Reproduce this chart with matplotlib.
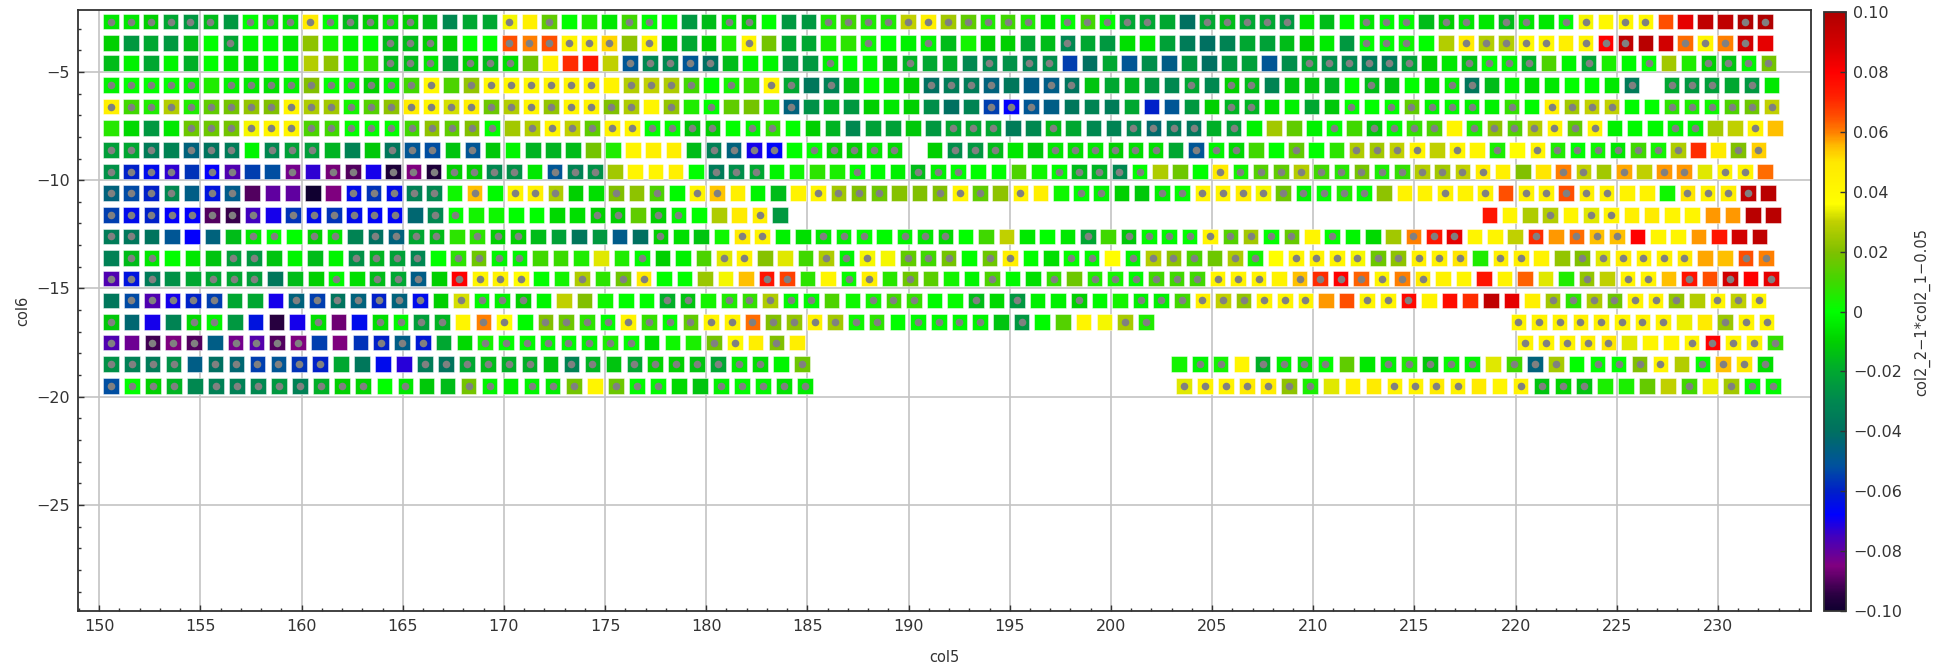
#!/usr/bin/env python3
"""
Grid of square markers coloured by col2_2-1*col2_1-0.05, with grey dots on the flagged cells.
"""

import matplotlib
matplotlib.use('Agg')
import matplotlib.pyplot as plt
import numpy as np
from matplotlib.cm import ScalarMappable
from matplotlib.colors import LinearSegmentedColormap, Normalize
from matplotlib.ticker import FuncFormatter, MultipleLocator

G = [None]

# col6 of every row, first col5 of the row and col5 step along the row
col6_rows = [-2.68, -3.66, -4.6, -5.6, -6.6, -7.6, -8.6, -9.6, -10.6, -11.6, -12.6, -13.6,
             -14.55, -15.55, -16.55, -17.5, -18.5, -19.5]
col5_first = 150.57
col5_steps = [0.985, 0.985, 0.987, 0.989, 0.989, 0.991, 0.993, 0.997, 0.999, 1.002, 1.006, 1.010,
              1.013, 1.018, 1.023, 1.028, 1.035, 1.040]

# colour values per row, in hundredths
row_01 = [-0.5, -0.5, -1, -2, -2.5, -1.5, -2.5, 0, -0.5, -0.5, 4.8, 0, -1.5, -1, -0.5, -1, -1.5, -3, -2, -2, 3.5, 4.5,
          1.5, 0, 0.5, -0.5, 1, 0, 0, -2.5, -1.5, -0.5, -1, 0, -2.5, -2.5, 0.5, 1, 0.5, 0.5, 3, 4.5, 2.5, 1.5, 0.5, 1,
          0.5, -0.5, 0, 1, 0, -2, -2, -2, -4, -2, -1.5, -2, -2, -2.5, -0.5, -1.5, 0, -0.5, 0,
          0, -1.5, -1, -0.5, -0.5, -1.5, -0.5, -0.5, 0, 3.5, 4, 4, 4, 6.5, 8.5, 9.5, 9.5, 10, 10]
row_02 = [-1, -2.5, -2, -2.5, -1.5, 0, -2, -0.2, 0, -0.5, 2.2, 0.3, -0.2, 0, -1.5, -1.5, -1, -1, 0, 0, 6.5, 6,
          6.5, 4.2, 4.2, 5.2, 2.2, 4.2, -1, -2, -1, 0.5, 4.2, 1.8, -2, -2, 0.4, 0.7, 0.2, 0, -0.3, -0.2, -1.5, 0.3, -1, -1,
          -2, -1.5, -3, -2, -2.5, -0.7, -0.5, -2.2, -3.5, -4, -3.2, -2, -2.2, -1.5, -1, -0.4, -2.5, 0, 0,
          0.2, 0, 2.8, 4.8, 2.8, 2.8, 4, 4, 4.5, 4.3, 8, 9.5, 9.7, 9, 6.2, 4.2, 6, 9, 8.5]
row_03 = [-1.5, -0.3, -2, -0.2, -1.8, 0, -0.5, -0.7, 0, -0.2, 2.8, 2.2, 0.2, 0.7, -1.5, -1.5, -0.5, -2, -1, -1.5, -0.7, 1.7,
          4.3, 7, 7.5, 3, -5, -3, -3, -5, -4, -1.5, -0.2, -0.2, -2.5, -2.5, -0.3, 0, -0.2, -1.2, -1.7, -2, -1.8, -3, -3, -2.7,
          -3.3, -2.8, -5.5, -4, -2, -5, -2.8, -4.7, -2.5, -4, -2.5, -2.3, -5, -2.8, -2, -2.8, -3, -3.5, -3.5,
          -2.2, -1, -0.5, -1.3, 0, -0.2, -1.7, 1.2, -0.2, -2, 0.4, -0.1, 0, 2.5, 0.5, -1, -1.3, -0.2, 1.8]
row_04 = [-0.3, 0, 0, 0, -0.3, 0.5, -0.3, -0.5, -0.7, -0.3, 2, 0, -0.2, -1, -0.2, 1, 4, 1.2, 2.3, 4, 4, 4,
          4.2, 4.2, 4.2, 4.3, 2.8, 3, 2.7, 1, 0, 0.3, 0.8, 4.2, -2, -3.7, -3.3, -1.3, 0, -0.5, -1, -4, -3.5, -3.5, -4.5, -3.7,
          -4.7, -4.7, -3.8, -1.3, -2, -1.7, -2.5, -3, -2, -3, -1, -1.5, -3.2, -1.3, -1.3, -1.7, 0, -1.5, -1.3,
          0, -0.7, -0.3, -3.7, -1.5, -0.2, -0.7, -0.5, 0, 0, -0.5, -3.5, None, -2, -2.5, -2.3, -2, -2.5, -0.5]
row_05 = [4.5, 1, 0.5, 2.8, 0.5, 1.5, 1.8, 2.3, 2, 4.2, 2.7, 2.5, 0.3, 1.3, 2.2, 4.7, 4.2, 3.2, 4.6, 1.7, 2.8, 4.2,
          2.3, 4.2, 4.3, 2, 2.7, 4.2, 2.3, 0.5, 0, 1.5, 1.8, 0.6, -4.5, -2.7, -1.7, -2.5, -1, -0.5, -1, -2.8, -4, -3.2, -5.5, -6.8,
          -5, -4.7, -3.7, -3.2, -3.5, -2, -6, -5, -2.5, -1, -1.7, -1.7, -0.7, -0.3, -2, -1.2, 0, 0, 0,
          1.5, -0.2, -0.1, -0.3, -0.3, 0.8, -0.1, 4.5, 2.5, 3, 3, -0.1, 0, 0.7, 0.4, 0.2, 1.2, 1.7, 3]
row_06 = [0.6, -0.8, -2.5, -0.5, 1.7, 1.7, 1.8, 3.5, 4.2, 4.2, 1.2, 1, 0, 0, 0, 1, 2.2, 1.5, 2, 0, 2.5, 2.8,
          4.2, 3, 1.5, 4.3, 4.2, 0, 0, -1.2, -1, 0, -0.2, 0.7, 0, -1, -1.7, -3, -2.2, -2.2, -1.2, -2.5, -2, -2, -2, -3.5,
          -3, -1.5, -2, -3, -3.2, -3, -4.2, -3.5, -3.7, -1.8, -2.3, -0.3, 2.5, 1.5, -0.3, 0, 1, -1.2, -0.1,
          0.8, 1.2, 4.2, 0.5, 2.2, 1.3, 2.8, 4.2, 1.5, 4.2, -0.3, -0.1, -0.1, -0.2, -0.2, 2.6, 3, 4.2, 5.5]
row_07 = [-2.3, -2, -3.5, -3.2, -4.5, -3.8, -3.5, -0.2, -3, -2.2, -2.3, -1.7, -3.2, -1.2, -3.7, -5, -5.2, -1.3, -5, -1.2, -0.2, -1.7,
          -1.7, -1.5, 1.8, 0.5, 4.2, 4.5, 4.6, -1.5, -3.3, -4.5, -7, -6.7, 0, 0, -1, -1, -0.5, -0.8, None, -1, -2.8, -2.5, -1.5, -0.5,
          -1.2, -0.5, -0.7, -0.5, -1, -0.7, -0.7, -2, -5, -0.2, -0.8, 1, 0, 1.5, 0, 0.7, 2.7, 2.5, 3,
          4.2, 3, 4.2, 4.2, 0.4, 3.7, 4.2, 0.5, 0, 0.2, -0.5, 1, 0.3, 2.7, 7, 4.8, 2, 5.3]
row_08 = [-2.7, -6, -6.5, -7.3, -5.7, -6.8, -7.7, -5.5, -5.2, -8.3, -7.3, -8.6, -9, -7, -9.7, -8.5, -9.7, -1, -1, -3, -2.7, -0.5,
          -5, -3.2, -2.7, 2.5, 4.2, 4.2, 4.5, 0, -3.5, -2.8, -2, -0.2, 0.2, 0.7, 0.4, 0, 0, -0.3, -1.5, -0.3, 0, 0, 0, 1.2,
          0.2, 0, -1.5, -1.7, -3, 0, 2.7, 1.7, 0, 4.8, 0.3, 1.3, 1.5, 2.8, 1, 0.6, 1.8, 0.4, 0.8,
          2.8, 2.5, 3, 4.7, 4.5, 2, 5, 6, 3, 2.5, 5.7, 3, 5.8, 5.8, 3.3, 4.2, 4.2, 6.2]
row_09 = [-4.5, -5.3, -6, -3, -4.7, -6.3, -4.8, -9, -8, -8, -10, -8.5, -6.5, -5.7, -6.5, -3.3, -3, 0.2, 5.5, -0.1, 4.2, 4.5,
          2.7, -1, -0.7, 2, 2.2, 1.2, -0.1, 4.2, 5.4, 4.5, -0.2, -1.5, 4.3, 4.2, 2.5, 2, 1.7, 2.1, 2, 2, 4.2, 1.5, 2.2,
          4.3, 4.6, 0.2, 0, -0.2, -1, -1.2, -0.3, 0, 4.2, 4.2, 4.7, 3.5, 1.7, -0.2, 0, 0.5, 0, 2.2,
          4.3, 4.3, 4.3, 4.3, 4.3, 6.5, 4.3, 4.3, 6.5, 4.5, 4.3, 4.3, 4.3, 0.2, 5, 4.3, 4.6, 9.5, 9.7]
row_10 = [-5.5, -6.5, -6, -6.8, -6.8, -9, -9.3, -7.5, -7, -5.7, -6.5, -5.7, -6.5, -6.7, -6.7, -4.3, -3, 0, 0.3, 0.2, 0, 0,
          -0.8, -0.7, -1, -1, 1.5, -1, -0.2, 0, 2.7, 4.8, 4.6, -2.5] + G * 34 + [
          7.5, 4.2, 2.7, 2.8, 4.2, 3.3, 4.2, 4.5, 4.8, 4.2, 4.2, 5.8, 5.8, 9.7, 9.7]
row_11 = [-3.5, -3.7, -3.8, -5, -6.8, -4.5, -1.5, -0.5, 0, 0, -1, -0.5, -3.2, -4, -4.5, -2, -1.5, 0.7, 0.7, -1, -1, -1.5,
          -2.2, -3.7, -2.5, -4.8, -4, -1, -0.7, -1.3, 0.2, 4.8, 4.3, -0.3, -0.7, -0.5, -0.3, 0, -0.1, -0.2, -0.5, -0.8, 0, 1, 3,
          -0.5, 0, -0.5, -2, 1, -1.2, -0.1, -0.1, 0, 4.2, 1.3, 2.5, 0, 1.6, 4.2, 0, -0.2, -0.8, 2.5,
          6, 7.5, 8.5, 4.2, 4.2, 3, 7, 5.8, 6.2, 5.5, 5.5, 8, 4.2, 4.2, 5.8, 7.5, 9, 9.5]
row_12 = [-3.3, -1.5, -0.5, 0, -0.5, -1.3, -2.3, -2.5, -1.3, -0.2, -1.5, -0.2, -2.7, -1.7, -2.2, -3, 0, 0.7, 1.7, -0.2, -0.2, 1,
          0.9, 0.5, 3.3, 0.5, -0.1, -1, -0.3, 1.2, 3.3, 4.3, 2.1, 3.3, 1, 2.7, -0.2, 3.5, 3.5, 1.5, 1, 1.8, 0, 1.7, 4.6,
          0, -0.7, 0, -0.1, 3.7, -0.2, 2.8, 2.2, 1.2, 1.7, 2.7, 0.3, 3.6, 4.2, 4.3, 4.2, 3.5, 1.7, 2.2,
          4.5, 4.4, 5, 0.5, 4.5, 4.5, 4.3, 2.3, 2, 3.3, 4.7, 4.4, 4.4, 4.8, 5.7, 5.5, 6.5, 6]
row_13 = [-7.7, -6.3, -3.5, -2.7, -2, -2, -2, -2.3, -3.7, -1.5, -1, -0.1, -0.7, -1.5, -2, -4.7, -1, 8, 4.2, 4.4, 3.7, 0,
          0.3, 2.7, 0.7, 1.7, 4.8, 0, 0, 2.4, 3.5, 5.5, 7.5, 6.7, 0.7, 4.2, 0.1, 4.6, 0.6, 1.7, 1.4, 0.3, -0.2, 1.2, -0.1,
          -0.7, 0.8, 1.7, 0.5, 0.3, -0.1, 1, 1, 1, 4.2, 4.3, 4.3, 4.3, 5.5, 7, 8, 6.3, 4.2, 6,
          4.8, 4.4, 4.2, 7.5, 4.3, 6.3, 3.3, 0.5, 2.3, 3, 4.3, 4.3, 5.5, 7.5, 6.5, 9, 8, 8.5]
row_14 = [-3.7, -5.3, -7.7, -7, -6, -5.5, -2, -2, -7, -4.5, -5.5, -3.8, -4.5, -6, -4.5, -6.5, -1, 3.2, -0.1, -0.3, -1, -0.2,
          3, 2, 0.2, 0, 0, -1.8, -1.3, 0.3, 0.5, 0.8, 2.7, -0.1, -0.1, 1.2, 0.2, 0.3, 1, 0.8, -0.1, 0.1, -1.5, -0.8,
          -2.5, -0.3, -0.3, -1, -0.1, 0.3, -0.3, -0.3, 1, 4.5, 3, 2.3, 4.2, 4.2, 4.2, 5.8, 6.5, 4.2, 4.2,
          7.8, 4.3, 7.7, 7, 9.5, 8.5, 4.5, 2.5, 0.7, 2.7, 1.7, 4.2, 4.2, 2.3, 2.8, 4.2, 3, 4.2]
row_15 = [-1.2, -4.3, -7, -3.2, -0.8, -0.2, -2.5, -6.3, -9.5, -7, -0.7, -8.7, -6.5, -0.7, -0.1, -2.3, -1.7, 4.2, 6, 3.7, -0.1,
          2, 1.7, 0.7, 0, 4.3, 0.8, 0, 1.5, 4.2, 4.3, 6.2, 2, 2.3, 4.3, 2.5, 0.2, 0.7, 0, -0.1, -0.1, -0.1, -0.2, -1.3,
          -2.5, -0.1, 1.3, 4.2, 3.5, 2.6, 0.5] + G * 17 + [
          4.2, 4.3, 4.3, 4.5, 4.4, 4.2, 4.3, 4.3, 3.4, 4.8, 2.4, 4.2, 4.2]
row_16 = [-7.7, -8.2, -9.2, -8.5, -9, -4.7, -8.3, -7.8, -9, -8.5, -5.5, -8.5, -5.7, -6, -4.7, -6.2, -2, -0.8, 0.3, 0, -0.1,
          -0.1, -0.1, -0.2, 0.4, 0, -0.7, 0.2, 0.4, 1.8, 3.8, 4.6, 2, 4.6] + G * 34 + [
          4.2, 4.2, 4.3, 4.6, 5, 3.3, 4.2, 4.2, 4.2, 8, 4.2, 4.2, 0.8]
row_17 = [-2.7, -3.3, -3.5, -2.7, -4.7, -4, -4.3, -5.5, -5, -5.7, -6, -2, -3.7, -6.5, -7.2, -3.5, -3.8, -2, -1.5, -1.8, -1.8,
          -1.3, -3.2, -1.7, -1.3, -2, -0.9, -1, -1.3, -2, -0.4, -0.7, -0.2, 1.7] + G * 17 + [
          0.3, -0.2, 0.3, 4.2, -1.8, -0.3, -0.5, 0, 1.5, -0.5, -0.3,
          0.5, -1.2, 0.1, -0.2, 3.3, 1, -4.5, 2.6, 0, 0, 0, 2, 4.2, 2.8, 0, 5.5, 4.9, -0.7]
row_18 = [-5.2, 0, -1, -1.7, -3, -3.3, -3.3, -3, -2.5, -3.3, -1.8, -1, -0.9, 0, -0.5, -1.2, -1.5, 1.8, -0.2, -0.3, -0.2,
          -0.4, 1.8, 4.2, 1.7, -0.1, -0.1, -0.8, -1.3, -0.3, -0.1, -0.2, -0.6, -0.4] + G * 17 + [
          3.3, 4.3, 4.3, 4.8, 4.7, 2.2, 0.4, 3.3, 4.5, 4.8, 4.3,
          4.3, 4.8, 4.3, 4.8, 4.2, 4.3, -1.3, -0.9, -1.3, 0.4, 0.4, 1.6, 3, 1, 3.4, 2.5, 0, -0.1]
rows = [row_01, row_02, row_03, row_04, row_05, row_06, row_07, row_08, row_09, row_10, row_11, row_12,
        row_13, row_14, row_15, row_16, row_17, row_18]

# positions along each row that carry a grey dot
dots_01 = [0, 1, 2, 3, 4, 5, 7, 8, 9, 10, 11, 12, 13, 14, 15, 20, 22, 26, 27, 31, 32, 36, 37, 38, 39, 40, 41, 42, 43, 44, 45,
           46, 48, 49, 50, 51, 52, 55, 56, 57, 58, 59, 63, 64, 65, 67, 68, 70, 71, 73, 74, 76, 77, 82, 83]
dots_02 = [6, 14, 15, 16, 20, 21, 22, 23, 24, 25, 27, 32, 38, 41, 48, 63, 64, 65, 68, 69, 70, 71, 72, 74, 75, 76, 79, 80, 81, 82]
dots_03 = [14, 15, 16, 18, 19, 20, 26, 27, 28, 29, 30, 36, 40, 44, 46, 47, 60, 61, 62, 63, 64, 65, 68, 69, 70, 71, 74, 77, 80,
           81, 82, 83]
dots_04 = [0, 1, 2, 3, 4, 6, 7, 8, 9, 10, 11, 12, 13, 14, 15, 16, 18, 19, 20, 21, 22, 23, 24, 26, 27, 28, 29, 31, 33, 34, 36,
           41, 42, 43, 44, 47, 48, 54, 56, 57, 63, 67, 68, 76, 78, 79, 80, 82]
dots_05 = [0, 1, 2, 3, 4, 5, 6, 7, 8, 9, 10, 11, 12, 13, 14, 15, 16, 17, 18, 19, 20, 21, 22, 23, 24, 25, 26, 28, 30, 34, 44, 45,
           46, 56, 57, 62, 64, 65, 66, 67, 68, 70, 72, 73, 74, 75, 78, 79, 80, 81, 82, 83]
dots_06 = [4, 5, 6, 7, 8, 9, 10, 11, 12, 13, 14, 15, 16, 17, 18, 19, 21, 22, 23, 24, 25, 26, 27, 28, 29, 30, 32, 33, 42, 43, 44,
           47, 51, 52, 53, 54, 56, 61, 63, 64, 65, 66, 68, 69, 70, 71, 72, 73, 74, 78, 79, 82]
dots_07 = [0, 1, 2, 4, 5, 6, 8, 9, 10, 14, 15, 16, 18, 30, 31, 32, 33, 35, 36, 37, 38, 39, 42, 43, 44,
           47, 48, 49, 50, 51, 52, 54, 55, 56, 59, 62, 63, 64, 65, 67, 69, 71, 72, 73, 74, 75, 76, 77, 78, 81, 82]
dots_08 = [0, 1, 2, 3, 5, 6, 9, 11, 12, 14, 15, 16, 17, 18, 19, 20, 22, 23, 24, 30, 31, 32, 37, 40, 41, 42,
           47, 48, 49, 50, 51, 55, 56, 57, 58, 59, 60, 61, 62, 63, 64, 65, 66, 67, 68, 72, 73, 75, 77, 78, 80, 81]
dots_09 = [0, 1, 2, 3, 5, 6, 12, 13, 14, 15, 16, 18, 20, 21, 22, 25, 27, 29, 30, 35, 36, 37, 38, 41, 42, 43, 45, 48, 49,
           52, 53, 54, 55, 56, 57, 58, 59, 60, 61, 62, 66, 68, 70, 71, 72, 73, 74, 78, 79, 80, 81]
dots_10 = [0, 1, 2, 3, 4, 5, 6, 7, 9, 10, 11, 12, 13, 14, 16, 17, 24, 25, 27, 28, 32, 71, 73, 74]
dots_11 = [0, 1, 7, 8, 10, 11, 13, 14, 15, 16, 18, 19, 20, 27, 31, 32, 35, 36, 37, 39, 40, 41, 48, 50, 51, 52, 53, 54, 55, 56,
           57, 58, 60, 64, 65, 66, 70, 72, 73, 74]
dots_12 = [1, 2, 6, 7, 12, 13, 14, 15, 17, 18, 19, 20, 26, 30, 31, 35, 36, 37, 39, 40, 41, 43, 44, 47, 48, 50, 51, 52, 53, 55,
           56, 58, 59, 60, 61, 62, 63, 64, 65, 66, 68, 69, 72, 73, 74, 75, 76, 77, 80, 81]
dots_13 = [0, 1, 2, 5, 6, 7, 11, 13, 14, 15, 17, 18, 19, 20, 23, 25, 26, 32, 33, 36, 37, 39, 43, 46, 48, 49, 50, 51, 52, 53,
           54, 55, 56, 58, 59, 60, 61, 62, 63, 64, 72, 74, 75, 77, 79, 81]
dots_14 = [1, 2, 3, 4, 5, 9, 10, 11, 12, 13, 14, 15, 17, 18, 19, 20, 27, 28, 30, 31, 32, 33, 34, 37, 38, 39, 42, 44, 47, 50, 51,
           52, 53, 54, 55, 56, 57, 58, 61, 62, 63, 70, 71, 72, 73, 74, 75, 76, 78, 79, 80]
dots_15 = [0, 4, 5, 10, 13, 14, 15, 16, 18, 19, 21, 22, 23, 24, 25, 26, 27, 28, 29, 30, 31, 32, 33, 34, 35, 36, 37, 39, 40, 41,
           42, 44, 49, 50, 68, 69, 70, 71, 72, 73, 74, 75, 78, 79, 80]
dots_16 = [0, 2, 3, 4, 6, 7, 8, 9, 13, 14, 15, 18, 19, 20, 21, 22, 23, 24, 25, 29, 30, 32, 68, 69, 70, 71, 72, 76, 77, 78, 79, 80]
dots_17 = [0, 1, 2, 3, 5, 6, 7, 8, 9, 10, 15, 16, 17, 18, 19, 20, 22, 23, 25, 26, 27, 28, 29, 30, 31, 33, 52, 53, 55, 56, 57, 58,
           61, 62, 63, 64, 65, 67, 68, 69, 71, 72, 73, 74, 76, 77, 78, 79]
dots_18 = [0, 1, 2, 3, 5, 6, 7, 8, 9, 10, 11, 12, 14, 17, 18, 20, 21, 22, 24, 25, 26, 29, 30, 31, 32, 33, 51, 52, 53, 54, 55, 56,
           57, 61, 62, 63, 64, 67, 68, 69, 70, 75, 77, 78, 79]
dots = [dots_01, dots_02, dots_03, dots_04, dots_05, dots_06, dots_07, dots_08, dots_09, dots_10, dots_11, dots_12,
        dots_13, dots_14, dots_15, dots_16, dots_17, dots_18]

cbar_ticks = [-0.10, -0.08, -0.06, -0.04, -0.02, 0, 0.02, 0.04, 0.06, 0.08, 0.10]

# colour scale
cmap_stops = [(-0.100, '#100030'), (-0.095, '#280040'), (-0.085, '#800080'), (-0.080, '#6000a0'), (-0.075, '#4000c0'),
              (-0.068, '#0000ff'), (-0.060, '#0020c8'), (-0.052, '#0050a0'), (-0.040, '#007060'), (-0.030, '#008850'),
              (-0.020, '#00a830'), (-0.010, '#00d000'), (0.000, '#00ff00'), (0.010, '#40d800'), (0.020, '#80c000'),
              (0.030, '#c0d000'), (0.036, '#ffff00'), (0.050, '#ffe800'), (0.055, '#ffc000'), (0.060, '#ff8000'),
              (0.065, '#ff5000'), (0.072, '#ff2000'), (0.080, '#ff0000'), (0.088, '#d80000'), (0.100, '#b00000')]
cmap = LinearSegmentedColormap.from_list('col2', [((v + 0.1) / 0.2, c) for v, c in cmap_stops], N=512)
norm = Normalize(-0.1, 0.1)

fig = plt.figure(figsize=(19.5, 6.67), dpi=100)
ax = fig.add_axes([78 / 1950, 1 - 611 / 667, (1811 - 78) / 1950, (611 - 10) / 667])

for y, step, values, flagged in zip(col6_rows, col5_steps, rows, dots):
    values = np.array(values, dtype=float)
    x = col5_first + step * np.arange(len(values))
    ax.scatter(x, np.full(len(x), y), c=values / 100, cmap=cmap, norm=norm, marker='s', s=126,
               edgecolors=(1, 1, 1, 0.45), linewidths=0.7, zorder=3)
    ax.scatter(x[flagged], np.full(len(flagged), y), c='#808080', marker='o', s=30, linewidths=0, zorder=4)

ax.set_xlim(148.95, 234.6)
ax.set_ylim(-29.9, -2.14)
ax.xaxis.set_major_locator(MultipleLocator(5))
ax.xaxis.set_minor_locator(MultipleLocator(1))
ax.yaxis.set_major_locator(MultipleLocator(5))
ax.yaxis.set_minor_locator(MultipleLocator(1))
ax.grid(which='major', color='#c4c4c4', linewidth=1.2, zorder=0)
ax.set_axisbelow(True)
ax.tick_params(which='major', direction='in', length=4, width=1, labelsize=11.5, colors='#333333', pad=6)
ax.tick_params(which='minor', direction='in', length=2.5, width=1, colors='#333333')
for spine in ax.spines.values():
    spine.set_linewidth(1.3)
    spine.set_color('#333333')
ax.yaxis.set_major_formatter(FuncFormatter(lambda v, pos: f'{v:.0f}'.replace('-', '\u2212')))
ax.set_xlabel('col5', fontsize=10.5, color='#333333', labelpad=11)
ax.set_ylabel('col6', fontsize=10.5, color='#333333', labelpad=4)

# colour bar
cax = fig.add_axes([1824 / 1950, 1 - 611 / 667, 22 / 1950, (611 - 12) / 667])
cbar = fig.colorbar(ScalarMappable(norm=norm, cmap=cmap), cax=cax)
cbar.set_ticks(cbar_ticks)
cbar.ax.set_yticklabels(['\u22120.10', '\u22120.08', '\u22120.06', '\u22120.04', '\u22120.02', '0',
                         '0.02', '0.04', '0.06', '0.08', '0.10'])
cbar.ax.tick_params(direction='in', length=4, width=1, labelsize=11.5, colors='#333333', pad=5)
cbar.outline.set_linewidth(1.3)
cbar.outline.set_edgecolor('#333333')
cbar.set_label('col2_2\u22121*col2_1\u22120.05', fontsize=10.5, color='#333333', labelpad=9)

fig.savefig('out.png', dpi=100)
